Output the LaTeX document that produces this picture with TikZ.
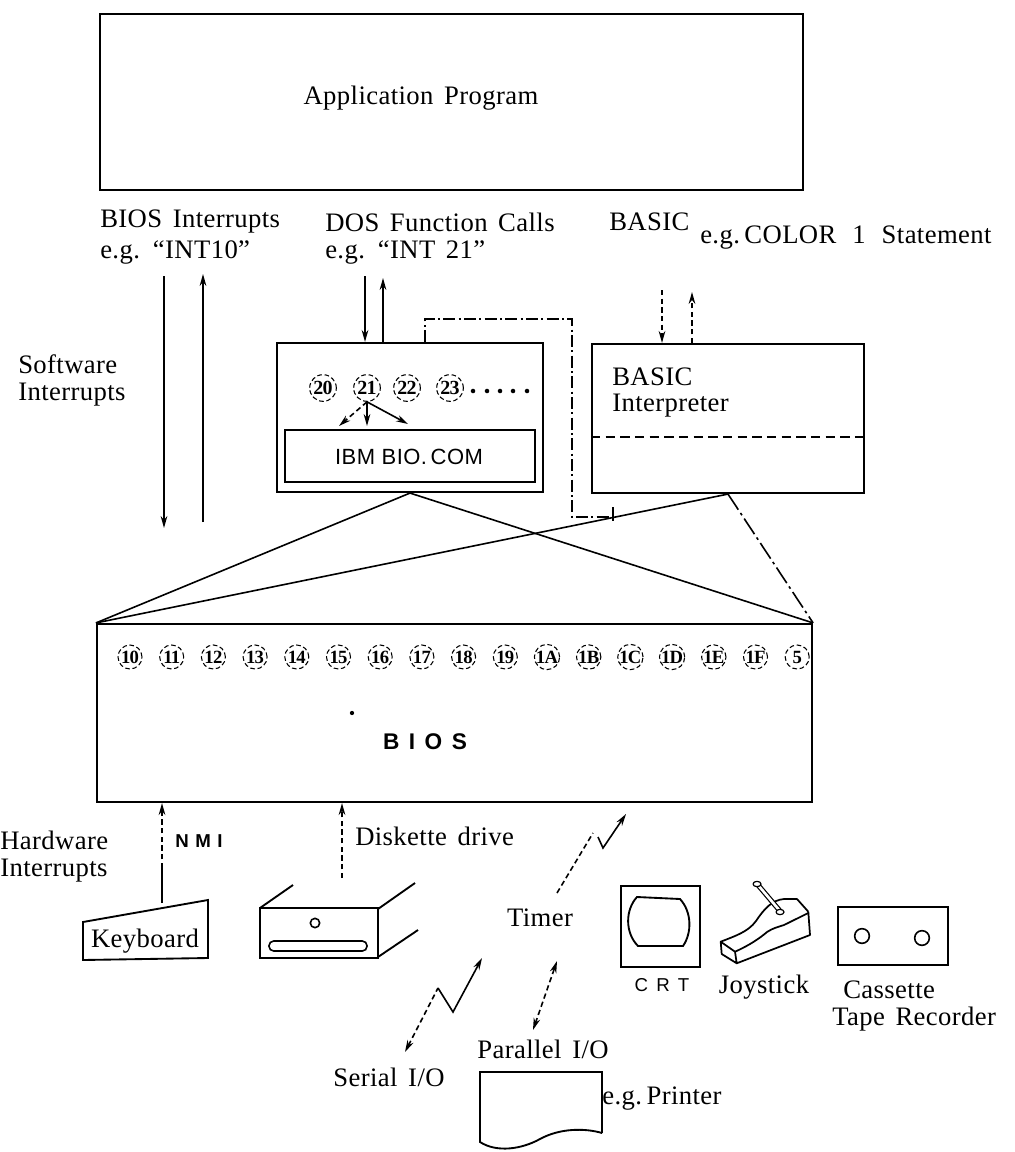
\documentclass[tikz,border=0pt]{standalone}
\usepackage{fontspec}
\setmainfont[LetterSpace=1.5,WordSpace=1.5]{Liberation Serif}
\setsansfont{Liberation Sans}
\usetikzlibrary{arrows.meta,fit,calc}
\begin{document}
\begin{tikzpicture}[x=0.75pt,y=-0.75pt,
  box/.style={draw, line width=1.6pt, inner sep=0pt},
  ln/.style={line width=1.2pt},
  arr/.style={ln, -{Stealth[length=9pt,width=5pt]}},
  dbl/.style={ln, {Stealth[length=9pt,width=5pt]}-{Stealth[length=9pt,width=5pt]}},
  dsh/.style={dash pattern=on 4pt off 2.5pt},
  dashdot/.style={dash pattern=on 9pt off 2.5pt on 1.5pt off 2.5pt},
  txt/.style={font=\fontsize{20}{21}\selectfont, inner sep=0pt},
  inum/.style={circle, draw, line width=0.8pt, dash pattern=on 3.5pt off 2pt,
    minimum size=18pt, inner sep=0pt,
    font=\fontsize{14}{14}\bfseries\addfontfeature{LetterSpace=-4}},
  dnum/.style={inum, minimum size=20pt, font=\fontsize{15}{15}\bfseries\addfontfeature{LetterSpace=-4}}
]
\useasboundingbox (0,0) rectangle (1014,1152);

% ---------- application program ----------
\node[box, fit={(100,14) (803,190)}] (app) {};
\node[txt] (apptxt) at (421,98) {Application\hspace{0.4em}Program};

% ---------- interface labels ----------
\node[txt, anchor=west] (bioslbl) at (100,222) {BIOS Interrupts};
\node[txt, anchor=west] (bioseg) at (100,252) {e.g. “INT10”};
\node[txt, anchor=west] (doslbl) at (325,222) {DOS Function Calls};
\node[txt, anchor=west] (doseg) at (325,252) {e.g. “INT 21”};
\node[txt, anchor=west] (basiclbl) at (609,222) {BASIC};
\node[txt, anchor=west] (basiceg) at (700,238) {e.g.\,COLOR\hspace{0.6em}1\hspace{0.6em}Statement};
\node[txt, anchor=west] (sw1) at (18,364) {Software};
\node[txt, anchor=west] (sw2) at (18,395) {Interrupts};

% ---------- DOS box ----------
\node[box, fit={(277,343) (543,492)}] (dos) {};
\node[box, line width=1.4pt, fit={(285,430) (535,482)}] (bio) {};
\node[font=\fontsize{16.5}{17}\sffamily\addfontfeature{LetterSpace=2}, inner sep=0pt] (biotxt) at (409,457) {IBM BIO.\,COM};
\foreach \t/\x in {20/323,21/367,22/407,23/450}
  \node[dnum] (d\t) at (\x,388) {\t};
\foreach \x in {473,487,500,513,527}
  \fill (\x,391) circle (1.7pt);
\coordinate (s1) at (339,426);
\coordinate (s2) at (367,426);
\coordinate (s3) at (408,424);
\draw[arr, dsh] (d21.south) -- (s1);
\draw[arr] (d21.south) -- (s2);
\draw[arr] (d21.south) -- (s3);

% ---------- BASIC interpreter box ----------
\node[box, fit={(592,344) (864,493)}] (basic) {};
\draw[ln, dash pattern=on 7pt off 4pt] (basic.west |- 0,437) -- (basic.east |- 0,437);
\node[txt, anchor=west] (b1) at (612,377) {BASIC};
\node[txt, anchor=west] (b2) at (612,406) {Interpreter};

% ---------- BIOS box ----------
\node[box, fit={(97,624) (812,802)}] (bios) {};
\foreach \t [count=\k from 0] in {10,11,12,13,14,15,16,17,18,19,1A,1B,1C,1D,1E,1F,5}
  \node[inum] (v\t) at ({130+41.7*\k},657) {\t};
\fill (352,713) circle (1.6pt);
\node[font=\fontsize{17}{18}\sffamily\bfseries\addfontfeature{LetterSpace=42}, inner sep=0pt] (biostxt) at (425,742) {BIOS};

% ---------- software interrupt arrows ----------
\coordinate (a1) at (164,276);
\coordinate (a2) at (164,528);
\coordinate (a3) at (203,522);
\coordinate (a4) at (203,274);
\draw[arr] (a1) -- (a2);
\draw[arr] (a3) -- (a4);

\coordinate (q1) at (365,276);
\coordinate (q2) at (383,278);
\draw[arr] (q1) -- (q1 |- dos.north);
\draw[arr] (q2 |- dos.north) -- (q2);

\coordinate (r1) at (662,290);
\coordinate (r2) at (692,292);
\draw[arr, dsh] (r1) -- (r1 |- basic.north);
\draw[arr, dsh] (r2 |- basic.north) -- (r2);

% dash-dot link from the DOS box
\coordinate (k1) at (425,319);
\coordinate (k2) at (572,319);
\coordinate (k3) at (572,517);
\coordinate (k4) at (613,517);
\draw[ln, dashdot] (k1 |- dos.north) -- (k1) -- (k2) -- (k3) -- (k4);
\draw[ln] (613,507) -- (613,521);

% ---------- fan-in lines to BIOS ----------
\draw[ln] (dos.south) -- (bios.north west);
\draw[ln] (dos.south) -- (bios.north east);
\draw[ln] (basic.south) -- (bios.north west);
\draw[ln, dash pattern=on 14pt off 3pt on 2pt off 3pt] (basic.south) -- (bios.north east);

% ---------- hardware side ----------
\node[txt, anchor=west] (hw1) at (0,840) {Hardware};
\node[txt, anchor=west] (hw2) at (0,871) {Interrupts};

% keyboard
\draw[ln, line width=1.4pt] (83,922) -- (208,900) -- (208,958) -- (83,960) -- cycle;
\node[txt] (kbd) at (145,941) {Keyboard};
\coordinate (kb) at (162,903);
\coordinate (kbm) at (162,868);
\draw[ln] (kb) -- (kbm);
\draw[arr, dsh] (kbm) -- (kbm |- bios.south);
\node[font=\fontsize{14}{15}\sffamily\bfseries\addfontfeature{LetterSpace=35}, inner sep=0pt, anchor=west] (nmi) at (175,841) {NMI};

% diskette drive
\draw[ln, line width=1.4pt] (260,908) rectangle (378,958);
\draw[ln, line width=1.4pt] (260,908) -- (293,885);
\draw[ln, line width=1.4pt] (378,909) -- (415,883);
\draw[ln, line width=1.4pt] (378,957) -- (418,930);
\draw[ln] (315,923) circle (3.5pt);
\draw[ln, rounded corners=3.5pt] (269,941) rectangle (367,951);
\coordinate (dk) at (342,878);
\draw[arr, dsh] (dk) -- (dk |- bios.south);
\node[txt, anchor=west] (dklbl) at (355,836) {Diskette drive};

% timer
\node[txt] (timer) at (540,918) {Timer};
\coordinate (t1) at (557,893);
\coordinate (t2) at (593,833);
\coordinate (t3) at (598,837);
\coordinate (t4) at (603,848);
\coordinate (t5) at (626,814);
\draw[ln, dsh] (t1) -- (t2);
\draw[arr] (t3) -- (t4) -- (t5);

% serial I/O
\coordinate (u1) at (405,1052);
\coordinate (u2) at (438,988);
\coordinate (u3) at (453,1012);
\coordinate (u4) at (482,958);
\draw[ln, dsh, {Stealth[length=9pt,width=5pt]}-] (u1) -- (u2);
\draw[arr] (u2) -- (u3) -- (u4);
\node[txt] (serial) at (389,1077) {Serial I/O};

% parallel I/O and printer
\coordinate (p1) at (533,1030);
\coordinate (p2) at (557,961);
\draw[dbl, dsh] (p1) -- (p2);
\node[txt] (par) at (543,1049) {Parallel I/O};
\draw[ln, line width=1.4pt] (602,1133) -- (602,1072) -- (480,1072) -- (480,1142)
  .. controls (497,1153) and (522,1149) .. (540,1139)
  .. controls (560,1128) and (585,1128) .. (602,1133);
\node[txt] (prn) at (662,1099) {e.g.\,Printer};

% CRT
\draw[ln, line width=1.4pt] (621,886) rectangle (700,967);
\draw[ln, line width=1.4pt] (637,897) -- (680,899)
  .. controls (692,912) and (692,933) .. (683,946) -- (638,946)
  .. controls (625,933) and (625,910) .. (637,897) -- cycle;
\node[font=\fontsize{14}{15}\sffamily\addfontfeature{LetterSpace=45}, inner sep=0pt] (crt) at (662,985) {CRT};

% joystick
\begin{scope}[line width=1.3pt, line join=round]
  \draw (720.7,941.7) .. controls (735,936) and (748,932) .. (756,921)
        .. controls (764,909) and (772,900) .. (784,899) -- (797,899) -- (808.3,911.7);
  \draw (735,951.7) .. controls (750,945) and (760,938) .. (767,932)
        .. controls (773,928) and (778,927) .. (784,925) -- (808.3,913);
  \draw (808.3,911.7) -- (810,935) -- (736.7,963.3) -- (721.7,954) -- (720.7,941.7) -- (735,951.7) -- (736.7,963.3);
  \draw[line width=0.9pt, double, double distance=2pt] (780,911) -- (758,885);
  \draw[line width=0.9pt, fill=white] (780,912) ellipse (3pt and 2pt);
  \draw[line width=0.9pt, fill=white] (757,884) ellipse (3pt and 2pt);
\end{scope}
\node[txt] (joy) at (764,987) {Joystick};

% cassette tape recorder
\draw[ln, line width=1.4pt] (838,907) rectangle (948,965);
\draw[ln] (862,936) circle (5.5pt);
\draw[ln] (922,938) circle (5.5pt);
\node[txt, anchor=west] (cas1) at (843,990) {Cassette};
\node[txt, anchor=west] (cas2) at (832,1019) {Tape Recorder};
\end{tikzpicture}
\end{document}
